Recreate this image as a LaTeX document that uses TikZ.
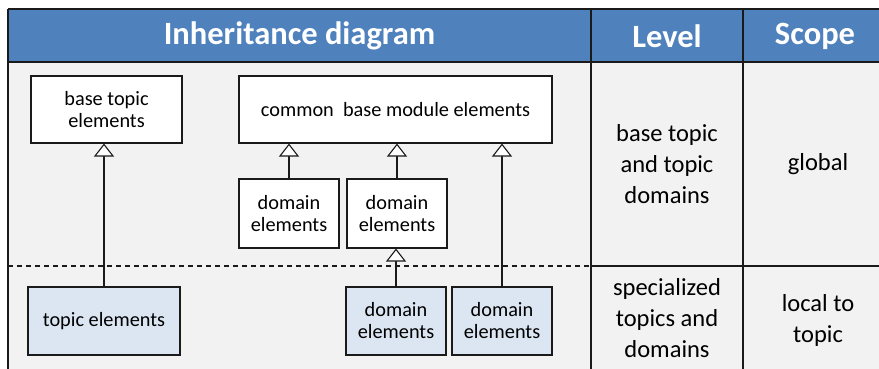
\documentclass[tikz,border=0pt]{standalone}
\usepackage{fontspec}
\setmainfont{Carlito}
\usetikzlibrary{arrows.meta}
\definecolor{hdr}{HTML}{4F81BD}
\definecolor{bg}{HTML}{F2F2F2}
\definecolor{lblue}{HTML}{DCE6F2}
\definecolor{ln}{HTML}{1A1A1A}
\tikzset{
  box/.style={draw=ln, line width=1.1pt, fill=white, inner sep=0pt, align=center,
    font=\fontsize{20.3}{22}\selectfont},
  lbox/.style={box, fill=lblue},
  inh/.style={draw=ln, line width=1.1pt, -{Triangle[length=13pt,width=20pt,fill=white,line width=1.1pt]}},
  hdrtxt/.style={text=white, font=\bfseries\fontsize{32.5}{36}\selectfont},
  celltxt/.style={align=center, font=\fontsize{24.5}{31}\selectfont},
  grid/.style={draw=ln, line width=1.1pt}
}
\begin{document}
\begin{tikzpicture}[x=1pt,y=-1pt]
\useasboundingbox (0,0) rectangle (879,368);
% backgrounds
\fill[bg] (8,62) rectangle (890,375);
\fill[hdr] (8,9) rectangle (890,62);
% grid
\draw[grid] (8,9) -- (890,9);
\draw[grid] (8,62) -- (890,62);
\draw[grid] (8,9) -- (8,375);
\draw[grid] (591,9) -- (591,375);
\draw[grid] (743,9) -- (743,375);
\draw[grid] (591,266) -- (890,266);
\draw[ln, line width=1.1pt, dash pattern=on 5pt off 4pt] (8,266) -- (591,266);
% header texts
\node[hdrtxt] (h1) at (299.5,36) {Inheritance diagram};
\node[hdrtxt] (h2) at (667,36) {Level};
\node[hdrtxt] (h3) at (815,36) {Scope};
% cell texts
\node[celltxt] (lv1) at (667,164) {base topic\\and topic\\domains};
\node[celltxt] (sc1) at (818,164) {global};
\node[celltxt] (lv2) at (667,318) {specialized\\topics and\\domains};
\node[celltxt] (sc2) at (818,320) {local to\\topic};
% boxes
\node[box, minimum width=151pt, minimum height=67pt] (base) at (106.5,109.5) {base topic\\elements};
\node[box, minimum width=313pt, minimum height=67pt] (common) at (395.5,109.5) {common\ \ base module elements};
\node[box, minimum width=100pt, minimum height=69pt] (d1) at (289,213.5) {domain\\elements};
\node[box, minimum width=100pt, minimum height=69pt] (d2) at (397,213.5) {domain\\elements};
\node[lbox, minimum width=152pt, minimum height=68pt] (topic) at (104,321) {topic elements};
\node[lbox, minimum width=100pt, minimum height=68pt] (d3) at (396,321) {domain\\elements};
\node[lbox, minimum width=100pt, minimum height=68pt] (d4) at (502,321) {domain\\elements};
% inheritance arrows
\draw[inh] (topic.north) -- (topic.north |- base.south);
\draw[inh] (d1.north) -- (d1.north |- common.south);
\draw[inh] (d2.north) -- (d2.north |- common.south);
\draw[inh] (d4.north) -- (d4.north |- common.south);
\draw[inh] (d3.north) -- (d3.north |- d2.south);
\end{tikzpicture}
\end{document}
